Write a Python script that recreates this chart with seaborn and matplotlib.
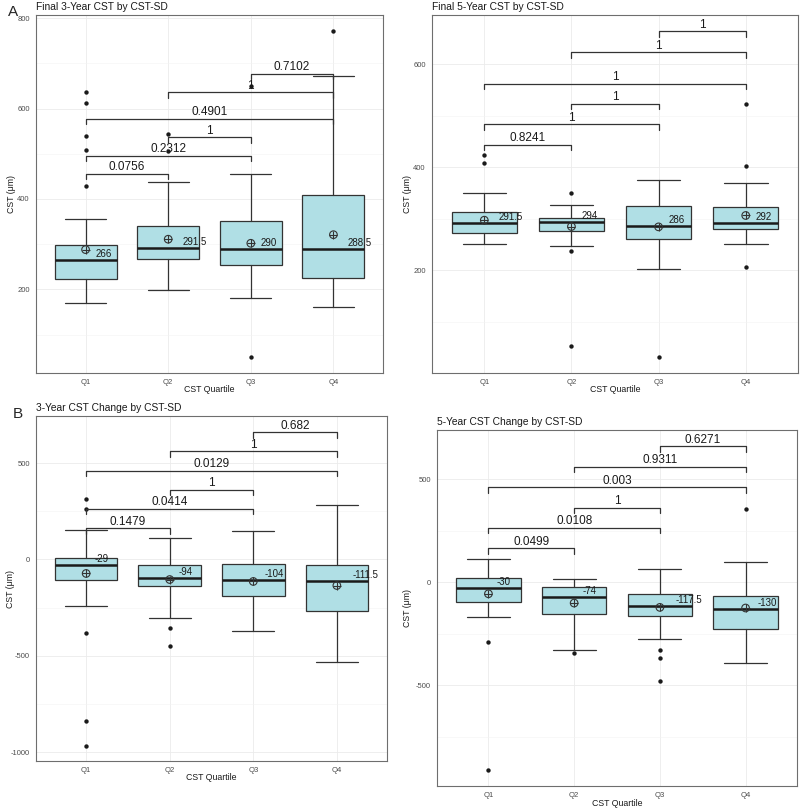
import matplotlib
matplotlib.use("Agg")
import matplotlib.pyplot as plt
import pandas as pd
import seaborn as sns

quartiles = ["Q1", "Q2", "Q3", "Q4"]
pairs = [(0, 1), (0, 2), (1, 2), (0, 3), (1, 3), (2, 3)]

# Final 3-year CST
f3_whislo = [170, 199, 181, 160]
f3_q1 = [222, 268, 254, 226]
f3_med = [266, 291.5, 290, 288.5]
f3_q3 = [298, 341, 351, 409]
f3_whishi = [355, 437, 456, 672]
f3_mean = [288, 311, 302, 321]
f3_out = [[637, 612, 539, 508, 429], [544, 506], [649, 51], [771]]
f3_p = ["0.0756", "0.2312", "1", "0.4901", "1", "0.7102"]
f3_plev = [456, 496, 537, 577, 636, 677]

# Final 5-year CST
f5_whislo = [251, 248.5, 202.5, 250.5]
f5_q1 = [272, 276, 261, 280]
f5_med = [291.5, 294, 286, 292]
f5_q3 = [312.6, 301, 326, 323.5]
f5_whishi = [351, 327, 376, 370]
f5_mean = [297.7, 285.4, 284.7, 306.8]
f5_out = [[424, 409], [350, 238, 53.6], [32], [523.5, 402.5, 206]]
f5_p = ["0.8241", "1", "1", "1", "1", "1"]
f5_plev = [444, 483.5, 523.5, 563, 624, 664]

# 3-year CST change
c3_whislo = [-240, -306, -371.5, -532]
c3_q1 = [-104, -138, -190, -266]
c3_med = [-29, -94, -104, -111.5]
c3_q3 = [7, -29.5, -26, -29.5]
c3_whishi = [155, 110, 148, 281]
c3_mean = [-72.5, -104, -114, -135]
c3_out = [[312, 262, -383, -836, -966], [-357.5, -451], [], []]
c3_p = ["0.1479", "0.0414", "1", "0.0129", "1", "0.682"]
c3_plev = [162, 262, 361, 459, 561, 661]

# 5-year CST change
c5_whislo = [-168, -331, -278, -391]
c5_q1 = [-97, -153.6, -163, -228]
c5_med = [-30, -74, -117.5, -130]
c5_q3 = [22, -26, -58, -66]
c5_whishi = [111, 14.5, 63, 98]
c5_mean = [-57, -102, -123, -126]
c5_out = [[-293, -913], [-344], [-331, -370, -481.5], [354]]
c5_p = ["0.0499", "0.0108", "1", "0.003", "0.9311", "0.6271"]
c5_plev = [163, 263, 361, 460, 560, 660]

FILL = "#B0DFE5"
EDGE = "#333333"
DPI = 100

sns.set_theme(style="whitegrid")
plt.rcParams["font.family"] = ["Liberation Sans", "DejaVu Sans"]
plt.rcParams["axes.unicode_minus"] = False

fig = plt.figure(figsize=(8, 8.1), dpi=DPI)
med_texts = []


def add_axes(left, right, top, bottom):
    return fig.add_axes([left / 800, 1 - bottom / 810, (right - left) / 800, (bottom - top) / 810])


def draw_panel(ax, title, whislo, q1, med, q3, whishi, means, outs, plabs, plevs,
               ylim, yticks, yminor, ylab_px=25):
    ax.set_ylim(*ylim)
    ax.set_xlim(-0.6, 3.6)
    ax.set_yticks(yticks)
    ax.set_yticks(yminor, minor=True)
    ax.grid(True, which="major", color="#EBEBEB", lw=0.6)
    ax.grid(True, which="minor", axis="y", color="#F3F3F3", lw=0.4)
    ax.set_axisbelow(True)

    stats = []
    for i in range(4):
        stats.append(dict(whislo=whislo[i], q1=q1[i], med=med[i], q3=q3[i],
                          whishi=whishi[i], fliers=[]))
    ax.bxp(stats, positions=range(4), widths=0.75, capwidths=0.5, showfliers=False,
           patch_artist=True, manage_ticks=False,
           boxprops=dict(facecolor=FILL, edgecolor=EDGE, lw=0.9),
           medianprops=dict(color="#1a1a1a", lw=1.8),
           whiskerprops=dict(color=EDGE, lw=0.9),
           capprops=dict(color=EDGE, lw=0.9))

    # outliers
    out_df = pd.DataFrame([(i, v) for i, vals in enumerate(outs) for v in vals],
                          columns=["pos", "value"])
    if len(out_df):
        sns.scatterplot(data=out_df, x="pos", y="value", ax=ax, color="#1a1a1a",
                        s=10, linewidth=0, zorder=4)

    # means
    mean_df = pd.DataFrame({"pos": range(4), "value": means})
    sns.scatterplot(data=mean_df, x="pos", y="value", ax=ax, marker="o",
                    facecolor="none", edgecolor=EDGE, s=30, linewidth=0.8, zorder=5)
    sns.scatterplot(data=mean_df, x="pos", y="value", ax=ax, marker="+",
                    color=EDGE, s=30, linewidth=0.8, zorder=5)

    # median labels
    for i, m in enumerate(med):
        lab = f"{m:g}"
        t = ax.annotate(lab, (i, m), xytext=(0, 4.3), textcoords="offset points",
                        ha="left", va="center", fontsize=7, color="#1a1a1a", zorder=6)
        med_texts.append(t)

    # comparison brackets
    pos = ax.get_position()
    h_px = pos.height * 810
    w_px = pos.width * 800
    tip = 5.5 / h_px * (ylim[1] - ylim[0])
    pad = 0.5 / h_px * (ylim[1] - ylim[0])
    for (a, b), lab, lev in zip(pairs, plabs, plevs):
        ax.plot([a, a, b, b], [lev - tip, lev, lev, lev - tip], color=EDGE, lw=0.9,
                zorder=6)
        ax.text((a + b) / 2, lev + pad, lab, ha="center", va="bottom", fontsize=8.5,
                color="#1a1a1a", zorder=6)

    ax.set_xticks(range(4))
    ax.set_xticklabels(quartiles)
    ax.set_title(title, loc="left", fontsize=7.4, pad=3.5, color="#1a1a1a")
    ax.set_xlabel("CST Quartile", fontsize=6.3, color="#1a1a1a")
    ax.set_ylabel("CST (μm)", fontsize=6.3, color="#1a1a1a")
    ax.xaxis.label.set_va("center")
    ax.yaxis.label.set_va("center")
    ax.xaxis.set_label_coords(0.5, -17 / h_px)
    ax.yaxis.set_label_coords(-ylab_px / w_px, 0.5)
    ax.tick_params(axis="both", which="major", labelsize=5.5, labelcolor="#4D4D4D",
                   length=2.5, width=0.5, color=EDGE, pad=2)
    ax.tick_params(axis="both", which="minor", length=0)
    for sp in ax.spines.values():
        sp.set_color("#6E6E6E")
        sp.set_linewidth(0.8)


ax1 = add_axes(36, 383, 15, 373)
draw_panel(ax1, "Final 3-Year CST by CST-SD", f3_whislo, f3_q1, f3_med, f3_q3,
           f3_whishi, f3_mean, f3_out, f3_p, f3_plev, (15, 807),
           [200, 400, 600, 800], [100, 300, 500, 700], ylab_px=25)

ax2 = add_axes(432, 798, 15, 373)
draw_panel(ax2, "Final 5-Year CST by CST-SD", f5_whislo, f5_q1, f5_med, f5_q3,
           f5_whishi, f5_mean, f5_out, f5_p, f5_plev, (1, 696),
           [200, 400, 600], [100, 300, 500], ylab_px=25)

ax3 = add_axes(36, 387, 416, 761)
draw_panel(ax3, "3-Year CST Change by CST-SD", c3_whislo, c3_q1, c3_med, c3_q3,
           c3_whishi, c3_mean, c3_out, c3_p, c3_plev, (-1045, 744),
           [-1000, -500, 0, 500], [-750, -250, 250], ylab_px=26)

ax4 = add_axes(437, 797, 430, 786)
draw_panel(ax4, "5-Year CST Change by CST-SD", c5_whislo, c5_q1, c5_med, c5_q3,
           c5_whishi, c5_mean, c5_out, c5_p, c5_plev, (-990, 738),
           [-500, 0, 500], [-750, -250, 250], ylab_px=29)

fig.text(8 / 800, 1 - 12 / 810, "A", ha="left", va="center", fontsize=11)
fig.text(13 / 800, 1 - 414 / 810, "B", ha="left", va="center", fontsize=11)

# shift median labels right by a fraction of their own width
fig.canvas.draw()
for t in med_texts:
    w = t.get_window_extent().width
    t.xyann = (0.6 * w * 72 / DPI, 4.3)

fig.savefig("out.png", dpi=DPI)
